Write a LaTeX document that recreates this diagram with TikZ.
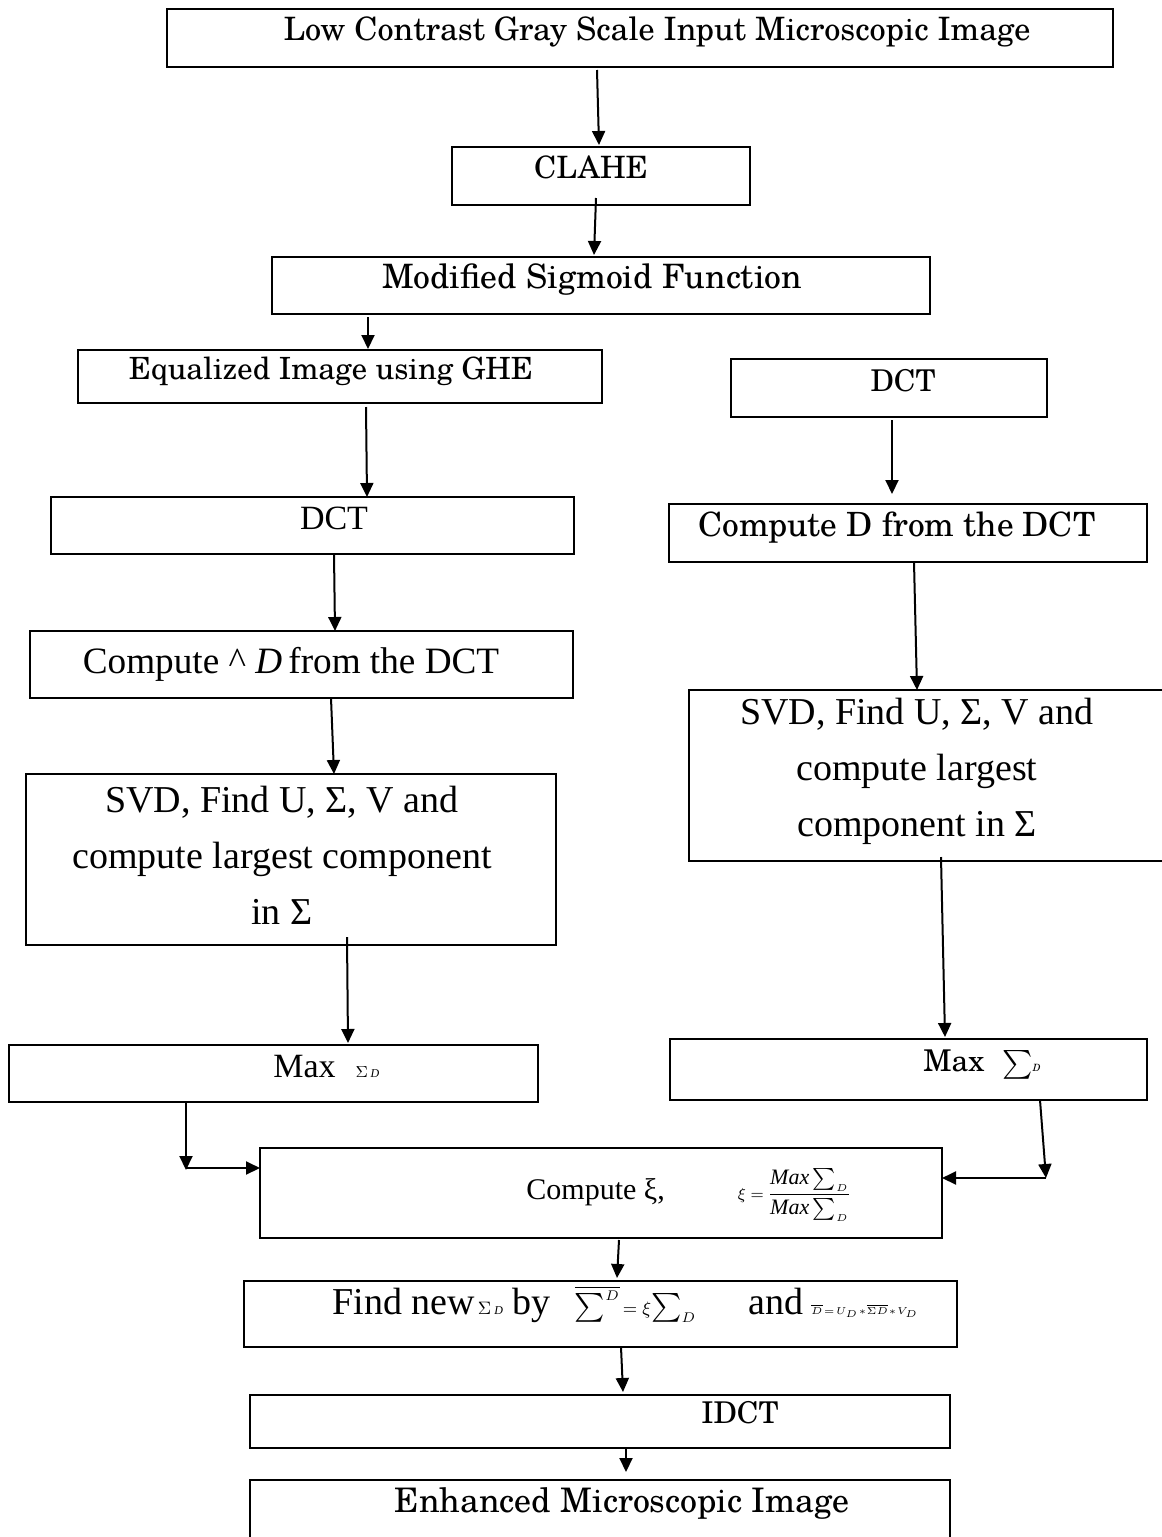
\documentclass[tikz,border=0pt]{standalone}
\usepackage{exscale}
\usepackage{fontspec}
\setmainfont{Liberation Serif}
\newfontfamily\sch{TeX Gyre Schola}
\usetikzlibrary{arrows.meta,calc}
\newcommand\bx[5]{\node[box,minimum width={(#4-#2)*0.5pt},minimum height={(#5-#3)*0.5pt}] (#1) at ({(#2+#4)/2},{(#3+#5)/2}) {};}
\begin{document}
\begin{tikzpicture}[x=0.5pt,y=-0.5pt,
  box/.style={draw,line width=1pt,inner sep=0pt,outer sep=0pt},
  arr/.style={line width=1pt,-{Triangle[length=7pt,width=6.5pt]}},
  txt/.style={inner sep=0pt,anchor=mid,yshift=-3.5pt},
  sc/.style={font={\sch\fontsize{#1}{#1}\selectfont}},
  tm/.style={font={\fontsize{#1}{#1}\selectfont}}]
\fill[white] (0,0) rectangle (1162,1537);
\useasboundingbox (0,0) rectangle (1162,1537);
% boxes
\bx{top}{167}{9}{1113}{67}
\bx{clahe}{452}{147}{750}{205}
\bx{sig}{272}{257}{930}{314}
\bx{ghe}{78}{350}{602}{403}
\bx{dctr}{731}{359}{1047}{417}
\bx{dctl}{51}{497}{574}{554}
\bx{cdr}{669}{504}{1147}{562}
\bx{cdl}{30}{631}{573}{698}
\bx{svdl}{26}{774}{556}{945}
\bx{svdr}{689}{690}{1166}{861}
\bx{maxl}{9}{1045}{538}{1102}
\bx{maxr}{670}{1039}{1147}{1100}
\bx{xi}{260}{1148}{942}{1238}
\bx{find}{244}{1281}{957}{1347}
\bx{idct}{250}{1395}{950}{1448}
\bx{enh}{250}{1480}{950}{1560}
% texts
\node[txt,sc=16.1] (top-t) at (657,29) {Low Contrast Gray Scale Input Microscopic Image};
\node[txt,sc=15.4] (clahe-t) at (591,167) {CLAHE};
\node[txt,sc=16.8] (sig-t) at (592,277) {Modified Sigmoid Function};
\node[txt,sc=15.3] (ghe-t) at (331,368) {Equalized Image using GHE};
\node[txt,sc=15] (dctr-t) at (903,380) {DCT};
\node[txt,tm=17] (dctl-t) at (334,518) {DCT};
\node[txt,sc=16.7] (cdr-t) at (897,525) {Compute D from the DCT};
\node[txt,tm=18.6] (cdl-t) at (291,662) {Compute \textasciicircum\ \textit{D}\,from the DCT};
\node[inner sep=0pt,align=center,font={\fontsize{19}{28}\selectfont}] (svdl-t) at (282,855) {SVD, Find U, Σ, V and\\compute largest component\\in Σ};
\node[inner sep=0pt,align=center,font={\fontsize{19}{28}\selectfont}] (svdr-t) at (917,771) {SVD, Find U, Σ, V and\\compute largest\\component in Σ};
\node[txt,anchor=mid west,tm=17] (maxl-t) at (273,1066) {Max\hspace{10pt}{\fontsize{8}{8}\selectfont$\Sigma$\,{\fontsize{6}{6}\selectfont\itshape D}}};
\node[txt,anchor=mid west,sc=15] (maxr-t) at (923,1060) {Max\hspace{9pt}{\fontsize{15}{15}\selectfont$\sum$}{\fontsize{5}{5}\selectfont\itshape D}};
\node[txt,anchor=mid west,tm=15,yshift=-1pt] (xi-t) at (526,1186) {Compute ξ,\hspace{36.5pt}{\fontsize{8}{8}\selectfont$\xi=$}\hspace{2pt}{\fontsize{11}{11}\selectfont$\displaystyle\frac{\mathit{Max}\sum_{\scriptscriptstyle D}}{\mathit{Max}\sum_{\scriptscriptstyle D}}$}};
\node[txt,anchor=mid west,tm=19] (find-t) at (332,1303) {Find new\hspace{1.5pt}{\fontsize{9}{9}\selectfont$\Sigma$\,{\fontsize{6}{6}\selectfont\itshape D}}\hspace{5pt}by\hspace{12pt}{\fontsize{14}{14}\selectfont$\overline{\sum\nolimits^{\scriptscriptstyle D}}$}{\fontsize{9}{9}\selectfont$\,=\xi$}{\fontsize{14}{14}\selectfont$\sum\nolimits_{\scriptscriptstyle D}$}\hspace{26pt}and\hspace{4pt}{\fontsize{5}{5}\selectfont$\overline{D}\!=\!U_D\!*\!\overline{\Sigma D}\!*\!V_D$}};
\node[txt,sc=15] (idct-t) at (740,1412) {IDCT};
\node[txt,sc=16.9] (enh-t) at (622,1501) {Enhanced Microscopic Image};
% connectors
\draw[arr] ([xshift=-21.5pt,yshift=-1.5pt]top.south) -- ([xshift=-1pt,yshift=1pt]clahe.north);
\draw[arr] ([xshift=-2.5pt,yshift=3.5pt]clahe.south) -- ([xshift=-3.5pt,yshift=1pt]sig.north);
\draw[arr] ([xshift=-116.5pt,yshift=-1.5pt]sig.south) -- ([xshift=14pt,yshift=0.5pt]ghe.north);
\draw[arr] ([xshift=13pt,yshift=-2pt]ghe.south) -- ([xshift=27.25pt]dctl.north);
\draw[arr] ([xshift=10.75pt]dctl.south) -- ([xshift=16.75pt]cdl.north);
\draw[arr] ([xshift=14.75pt]cdl.south) -- ([xshift=21.5pt]svdl.north);
\draw[arr] ([xshift=28pt,yshift=4pt]svdl.south) -- ([xshift=37.25pt,yshift=1pt]maxl.north);
\draw[arr] ([xshift=1.5pt,yshift=-1.5pt]dctr.south) -- ([xshift=-8pt,yshift=5pt]cdr.north);
\draw[arr] ([xshift=3pt]cdr.south) -- ([xshift=-5.25pt]svdr.north);
\draw[arr] ([xshift=6.75pt,yshift=2pt]svdr.south) -- ([xshift=18.25pt,yshift=1pt]maxr.north);
\coordinate (jl) at (186,1170);
\coordinate (jr) at (1046,1178);
\draw[arr] ([xshift=-43.75pt]maxl.south) -- (jl);
\draw[arr] ([yshift=1pt]jl) -- ([yshift=1pt]jl -| xi.west);
\draw[arr] ([xshift=65.75pt]maxr.south) -- (jr);
\draw[arr] (jr) -- (jr -| xi.east);
\draw[arr] ([xshift=9pt,yshift=-1pt]xi.south) -- ([xshift=8.25pt,yshift=1.5pt]find.north);
\draw[arr] ([xshift=10.25pt]find.south) -- ([xshift=11.5pt,yshift=1.5pt]idct.north);
\draw[arr] ([xshift=13pt]idct.south) -- ([xshift=13pt,yshift=4pt]enh.north);
\end{tikzpicture}
\end{document}
